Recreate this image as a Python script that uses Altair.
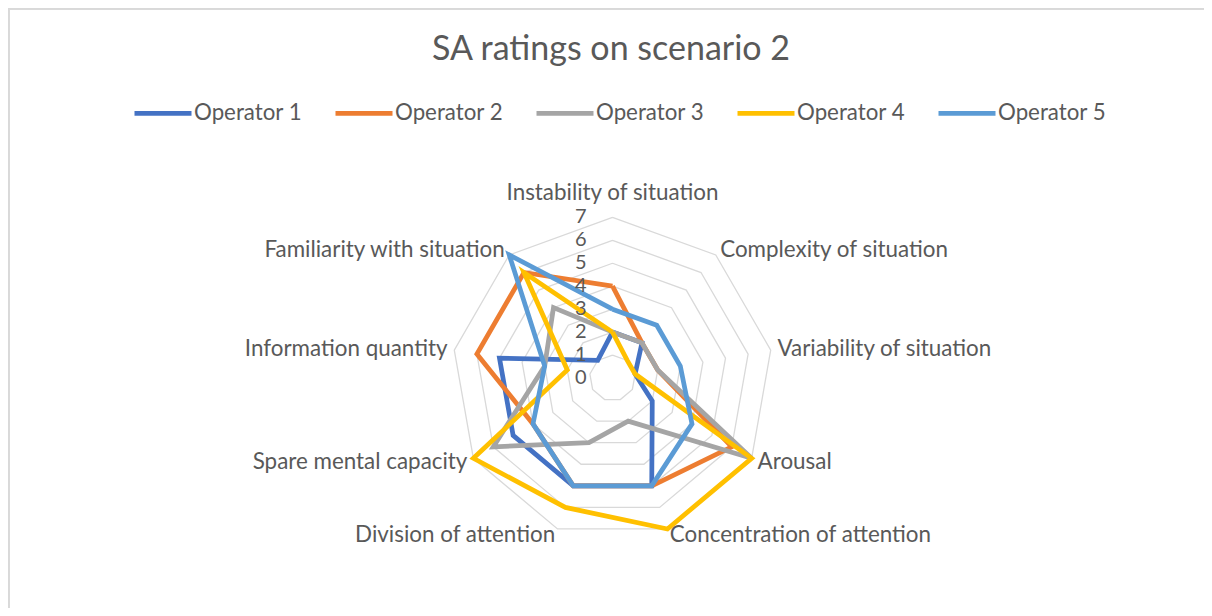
import altair as alt
import pandas as pd

# ---------------- data ----------------
categories = [
    "Instability of situation",
    "Complexity of situation",
    "Variability of situation",
    "Arousal",
    "Concentration of attention",
    "Division of attention",
    "Spare mental capacity",
    "Information quantity",
    "Familiarity with situation",
]
operators = ["Operator 1", "Operator 2", "Operator 3", "Operator 4", "Operator 5"]
op1 = [2, 2, 1, 2, 5, 5, 5, 5, 1]
op2 = [4, 2, 2, 6, 5, 5, 4, 6, 6]
op3 = [2, 2, 2, 7, 2, 3, 6, 3, 4]
op4 = [2, 1, 1, 7, 7, 6, 7, 2, 6]
op5 = [3, 3, 3, 4, 5, 5, 4, 3, 7]
colors = ["#4472C4", "#ED7D31", "#A5A5A5", "#FFC000", "#5B9BD5"]
ring_values = [1, 2, 3, 4, 5, 6, 7]
tick_labels = [0, 1, 2, 3, 4, 5, 6, 7]
title_text = ["SA ratings on scenario 2"]

# ---------------- layout ----------------
W, H = 1196, 600
CX, CY = 604.5, 370.0      # centre of the radar in plot coordinates
UNIT = 22.95               # pixels per rating unit
XMIN, XMAX = -CX / UNIT, (W - CX) / UNIT
YMIN, YMAX = -(H - CY) / UNIT, CY / UNIT
FONT = "Lato"
TXT = "#595959"
N = len(categories)

series = [op1, op2, op3, op4, op5]
rows = []
for name, vals in zip(operators, series):
    for i in range(N + 1):
        rows.append({"operator": name, "idx": i % N, "value": vals[i % N], "order": i})
df = pd.DataFrame(rows)

ring_df = pd.DataFrame(
    [{"ring": r, "idx": i % N, "order": i} for r in ring_values for i in range(N + 1)]
)
cat_df = pd.DataFrame({"category": categories, "idx": list(range(N))})
tick_df = pd.DataFrame({"tick": tick_labels})
title_df = pd.DataFrame({"title": title_text})

xs = alt.Scale(domain=[XMIN, XMAX], nice=False, zero=False)
ys = alt.Scale(domain=[YMIN, YMAX], nice=False, zero=False)
ang = "datum.idx * 2 * PI / " + str(N)

rings = (
    alt.Chart(ring_df)
    .transform_calculate(px=f"datum.ring * sin({ang})", py=f"datum.ring * cos({ang})")
    .mark_line(color="#D9D9D9", strokeWidth=1.3)
    .encode(
        x=alt.X("px:Q", scale=xs, axis=None),
        y=alt.Y("py:Q", scale=ys, axis=None),
        detail="ring:N",
        order="order:Q",
    )
)

lines = (
    alt.Chart(df)
    .transform_calculate(px=f"datum.value * sin({ang})", py=f"datum.value * cos({ang})")
    .mark_line(strokeWidth=4.75, strokeJoin="miter")
    .encode(
        x=alt.X("px:Q", scale=xs, axis=None),
        y=alt.Y("py:Q", scale=ys, axis=None),
        color=alt.Color(
            "operator:N",
            scale=alt.Scale(domain=operators, range=colors),
            legend=alt.Legend(
                title=None,
                orient="none",
                legendX=124,
                legendY=74,
                direction="horizontal",
                symbolType="stroke",
                symbolStrokeWidth=4.75,
                symbolSize=3249,
                labelFont=FONT,
                labelFontSize=22.3,
                labelColor=TXT,
                labelOffset=0,
                columnPadding=23,
            ),
        ),
        order="order:Q",
    )
)

R_LAB = 7.3
LAB_SIZE = 22.4


def cat_layer(filt, align, r, baseline="middle"):
    return (
        alt.Chart(cat_df)
        .transform_filter(filt)
        .transform_calculate(px=f"{r} * sin({ang})", py=f"{r} * cos({ang})")
        .mark_text(align=align, baseline=baseline, font=FONT, fontSize=LAB_SIZE, color=TXT)
        .encode(
            x=alt.X("px:Q", scale=xs, axis=None),
            y=alt.Y("py:Q", scale=ys, axis=None),
            text="category:N",
        )
    )


lab_top = cat_layer("datum.idx == 0", "center", 7.75, "alphabetic")
lab_right = cat_layer("datum.idx >= 1 && datum.idx <= 4", "left", R_LAB)
lab_left = cat_layer("datum.idx >= 5", "right", R_LAB)

ticks = (
    alt.Chart(tick_df)
    .mark_text(align="right", baseline="middle", dx=-26, font=FONT, fontSize=20, color=TXT)
    .encode(
        x=alt.X(datum=0, scale=xs, axis=None),
        y=alt.Y("tick:Q", scale=ys, axis=None),
        text="tick:N",
    )
)

title = (
    alt.Chart(title_df)
    .mark_text(align="center", baseline="alphabetic", font=FONT, fontSize=34, color=TXT)
    .encode(x=alt.value(W / 2 + 5), y=alt.value(52), text="title:N")
)

border = alt.Chart(tick_df).mark_rule(color="#D9D9D9", strokeWidth=1.5).encode(
    x=alt.value(0.75), y=alt.value(0), y2=alt.value(H)
)
border_top = alt.Chart(tick_df).mark_rule(color="#D9D9D9", strokeWidth=1.5).encode(
    x=alt.value(0), x2=alt.value(W), y=alt.value(0.75)
)

chart = (
    alt.layer(border, border_top, rings, lines, lab_top, lab_right, lab_left, ticks, title)
    .properties(
        width=W,
        height=H,
        padding={"left": 0, "right": 0, "top": 0, "bottom": 0},
        autosize=alt.AutoSizeParams(type="none"),
    )
    .configure_view(stroke=None)
    .configure(background="white")
)

chart.save("out.html", embed_options={"renderer": "svg", "actions": False})
